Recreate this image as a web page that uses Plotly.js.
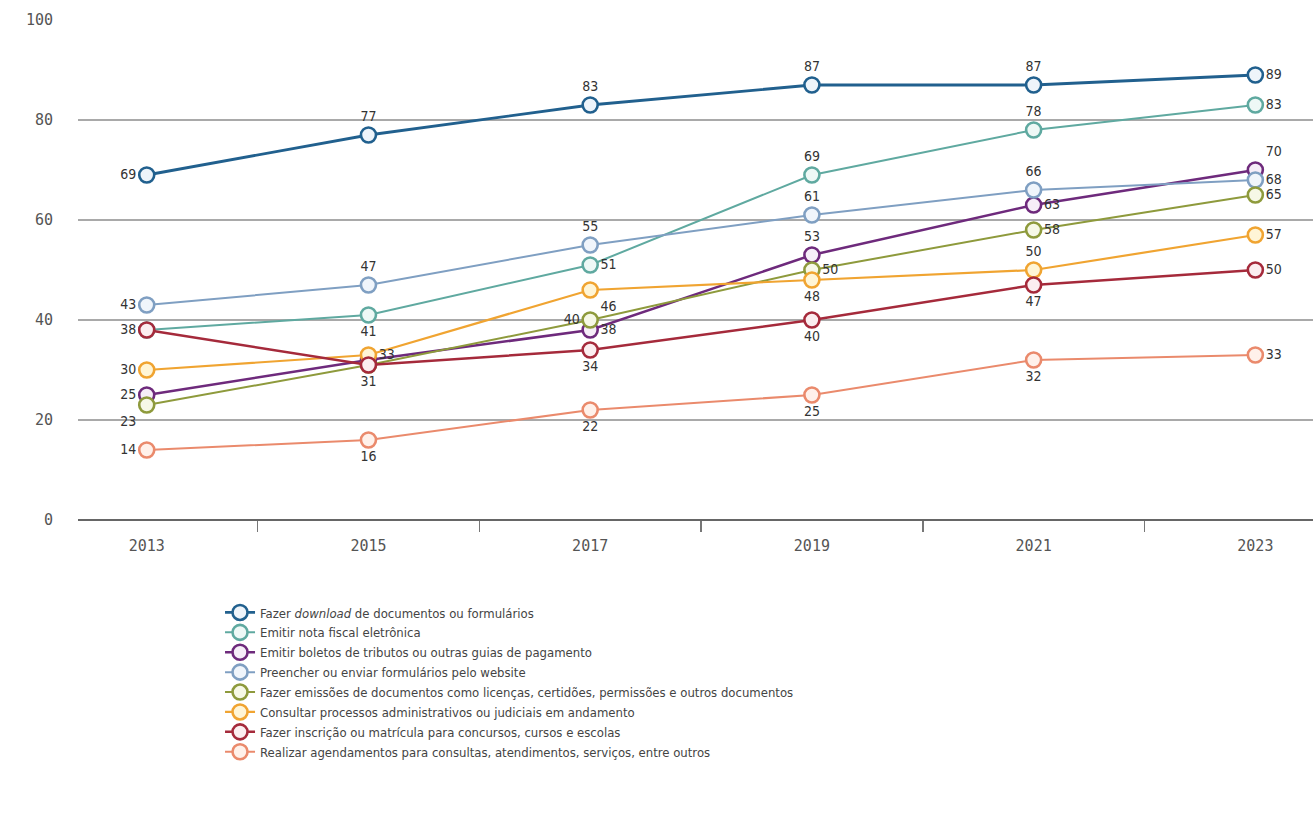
<!DOCTYPE html>
<html>
<head>
<meta charset="utf-8">
<script src="https://cdn.plot.ly/plotly-3.0.1.min.js"></script>
<style>html,body{margin:0;padding:0;background:#fff;}#chart{width:1313px;height:823px;}</style>
</head>
<body>
<div id="chart"></div>
<script>
const years = [2013, 2015, 2017, 2019, 2021, 2023];

const seriesNames = [
  "Fazer <i>download</i> de documentos ou formulários",
  "Emitir nota fiscal eletrônica",
  "Emitir boletos de tributos ou outras guias de pagamento",
  "Preencher ou enviar formulários pelo website",
  "Fazer emissões de documentos como licenças, certidões, permissões e outros documentos",
  "Consultar processos administrativos ou judiciais em andamento",
  "Fazer inscrição ou matrícula para concursos, cursos e escolas",
  "Realizar agendamentos para consultas, atendimentos, serviços, entre outros"
];

const download     = [69, 77, 83, 87, 87, 89];
const notaFiscal   = [38, 41, 51, 69, 78, 83];
const boletos      = [25, 32, 38, 53, 63, 70];
const preencher    = [43, 47, 55, 61, 66, 68];
const emissoes     = [23, 31, 40, 50, 58, 65];
const consultar    = [30, 33, 46, 48, 50, 57];
const inscricao    = [38, 31, 34, 40, 47, 50];
const agendamentos = [14, 16, 22, 25, 32, 33];

const allValues = [download, notaFiscal, boletos, preencher, emissoes, consultar, inscricao, agendamentos];

// label placement per point (L=left, T=top, B=bottom, R=right, TR, BR, TL, BL, N=hidden)
const placement = [
  ["L","T","T","T","T","R"],
  ["N","B","R","T","T","R"],
  ["L","N","R","T","R","TR"],
  ["L","T","T","T","T","R"],
  ["BL","N","L","R","R","R"],
  ["L","R","BR","B","T","R"],
  ["L","B","B","B","B","R"],
  ["L","B","B","B","B","R"]
];
const posMap = {L:"middle left", T:"top center", B:"bottom center", R:"middle right",
  TR:"top right", BR:"bottom right", TL:"top left", BL:"bottom left", N:"middle center"};

const lineColors = ["#21608e", "#5fa9a0", "#6e2a7c", "#7f9fc2", "#8e9a3c", "#f0a431", "#a52a3b", "#ea8a6c"];
const fillColors = ["#eef4fa", "#eef8f6", "#f6eef8", "#f0f5fb", "#f6f8e6", "#fff5d6", "#fbeef0", "#fff1ea"];
const lineWidths = [2.8, 2, 2.5, 2, 2, 2.2, 2.5, 2];

const labelFont = "DejaVu Sans Condensed, Liberation Sans Narrow, sans-serif";

const traces = allValues.map((vals, i) => ({
  x: years,
  y: vals,
  name: seriesNames[i],
  type: "scatter",
  mode: "lines+markers+text",
  line: {color: lineColors[i], width: lineWidths[i]},
  marker: {size: 15, color: fillColors[i], line: {color: lineColors[i], width: 2.6}},
  text: vals.map((v, j) => placement[i][j] === "N" ? "" : String(v)),
  textposition: placement[i].map(p => posMap[p]),
  textfont: {family: labelFont, size: 14, color: "#333"},
  cliponaxis: false,
  hoverinfo: "x+y+name"
}));

const layout = {
  width: 1313,
  height: 823,
  margin: {l: 78, r: 0, t: 20, b: 303},
  paper_bgcolor: "#fff",
  plot_bgcolor: "#fff",
  showlegend: true,
  legend: {
    orientation: "v",
    x: 0.115, xanchor: "left",
    y: -0.155, yanchor: "top",
    font: {family: "DejaVu Sans Condensed, Liberation Sans Narrow, sans-serif", size: 13, color: "#444"},
    itemwidth: 30,
    tracegroupgap: 0,
    traceorder: "normal",
    bgcolor: "rgba(0,0,0,0)"
  },
  xaxis: {
    range: [2012.38, 2023.52],
    tickmode: "array",
    tickvals: years,
    ticktext: years.map(String),
    ticks: "",
    showgrid: false,
    zeroline: false,
    showline: false,
    ticklabelstandoff: 15,
    tickfont: {family: "DejaVu Sans Mono, monospace", size: 15, color: "#555"},
    minor: {tickmode: "array", tickvals: [2014, 2016, 2018, 2020, 2022], ticks: "outside", ticklen: 11, tickcolor: "#777", tickwidth: 1.5, showgrid: false},
    fixedrange: true
  },
  yaxis: {
    range: [0, 100],
    tickmode: "array",
    tickvals: [0, 20, 40, 60, 80, 100],
    showgrid: true,
    gridcolor: "#a9a9a9",
    gridwidth: 1.6,
    zeroline: true,
    zerolinecolor: "#666",
    zerolinewidth: 1.6,
    showline: false,
    ticks: "",
    ticklabelstandoff: 24,
    tickfont: {family: "DejaVu Sans Mono, monospace", size: 15, color: "#555"},
    fixedrange: true
  }
};

Plotly.newPlot("chart", traces, layout, {displayModeBar: false, staticPlot: true});
</script>
</body>
</html>
